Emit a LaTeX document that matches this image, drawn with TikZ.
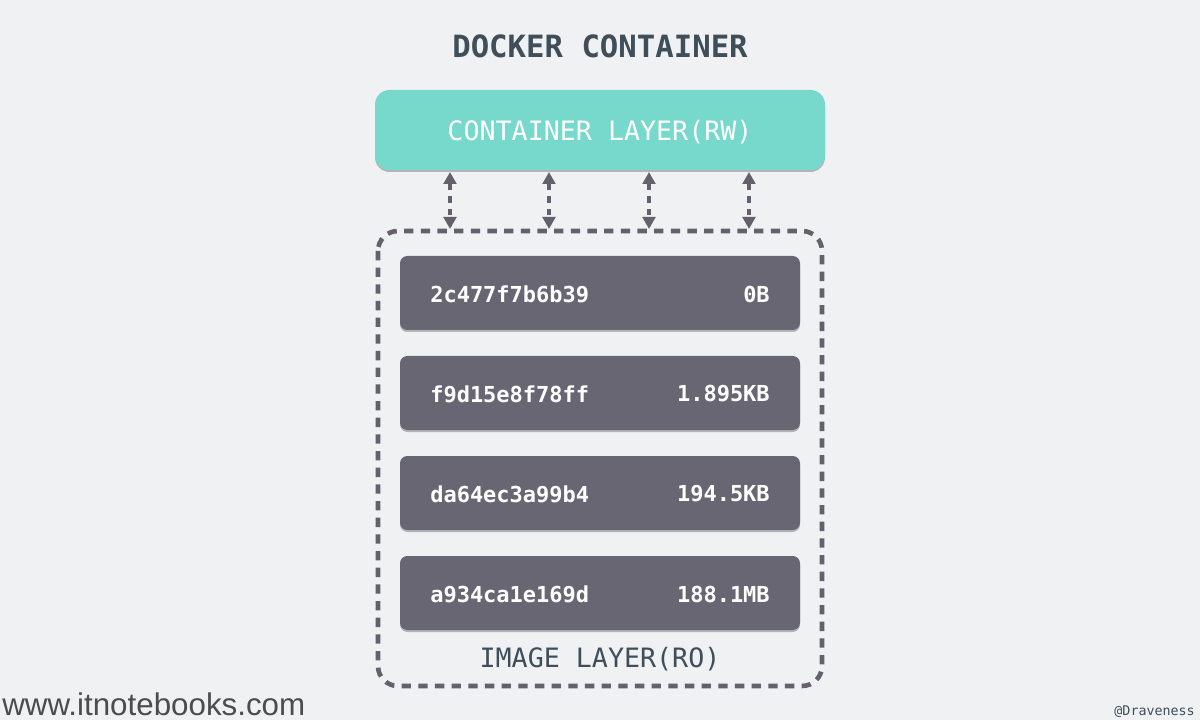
\documentclass[tikz,border=0pt]{standalone}
\usepackage{fontspec}
\setmonofont{DejaVu Sans Mono}
\newfontfamily\webfont{Liberation Sans}
\usetikzlibrary{shadows,arrows.meta}
\definecolor{bgc}{HTML}{EFF1F3}
\definecolor{teal}{HTML}{77D8CC}
\definecolor{layer}{HTML}{696673}
\definecolor{titlec}{HTML}{3F4E59}
\definecolor{arrowc}{HTML}{64616D}
\begin{document}
\begin{tikzpicture}[x=0.75pt,y=-0.75pt,
  layerbox/.style={fill=layer,rounded corners=5.5pt,minimum width=300pt,minimum height=55.5pt,
    drop shadow={shadow xshift=0pt,shadow yshift=-1.5pt,opacity=0.25,fill=black}},
  lbl/.style={text=white,inner sep=0pt,font=\ttfamily\bfseries\fontsize{16.5}{18}\selectfont},
  dasharrow/.style={arrowc,line width=3.3pt,dash pattern=on 5pt off 4.5pt,{Triangle[length=9pt,width=9.5pt]}-{Triangle[length=9pt,width=9.5pt]},shorten <=0pt,shorten >=0pt}
]
\fill[bgc] (0,0) rectangle (1200,720);
\useasboundingbox (0,0) rectangle (1200,720);

\node[text=titlec,font=\ttfamily\bfseries\fontsize{23}{26}\selectfont] (title) at (600,46) {DOCKER CONTAINER};

\node[fill=teal,rounded corners=11pt,minimum width=337.5pt,minimum height=60pt,
  drop shadow={shadow xshift=0pt,shadow yshift=-1.5pt,opacity=0.25,fill=black}] (cont) at (600,130) {};
\node[text=white,font=\ttfamily\fontsize{20}{22}\selectfont] (contlbl) at (600,132) {CONTAINER LAYER(RW)};

\draw[arrowc,line width=3.5pt,dash pattern=on 7pt off 5.5pt,rounded corners=15pt] (378,231) rectangle (822,686);
\coordinate (img) at (600,231);

\foreach \i/\x in {1/450,2/549,3/649,4/749}{
  \coordinate (t\i) at (\x,172);
  \coordinate (b\i) at (\x,229);
  \draw[dasharrow] (t\i) -- (b\i);
}

\foreach \i/\y/\h/\s in {1/293/2c477f7b6b39/0B,2/393/f9d15e8f78ff/1.895KB,3/493/da64ec3a99b4/194.5KB,4/593/a934ca1e169d/188.1MB}{
  \node[layerbox] (L\i) at (600,\y) {};
  \node[lbl,anchor=west] (h\i) at (430,\y+1) {\h};
  \node[lbl,anchor=east] (s\i) at (770,\y+1) {\s};
}

\node[text=titlec,font=\ttfamily\fontsize{20}{22}\selectfont] (ro) at (600,659) {IMAGE LAYER(RO)};

\node[anchor=base west,inner sep=0pt,text=black!70,font=\webfont\fontsize{23.5}{26}\selectfont] (web) at (2,715) {www.itnotebooks.com};
\node[anchor=base east,inner sep=0pt,text=titlec,font=\ttfamily\fontsize{10}{12}\selectfont] (auth) at (1195,715) {@Draveness};
\end{tikzpicture}
\end{document}
